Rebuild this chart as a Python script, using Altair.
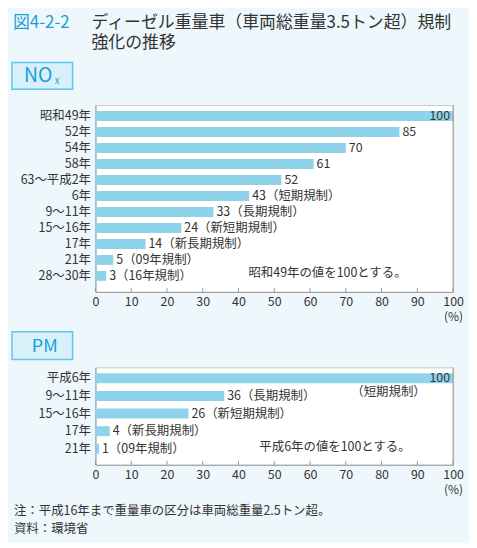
import altair as alt
import pandas as pd

# ---------------- data ----------------
nox_cats = ["昭和49年", "52年", "54年", "58年", "63〜平成2年", "6年", "9〜11年",
            "15〜16年", "17年", "21年", "28〜30年"]
nox_vals = [100, 85, 70, 61, 52, 43, 33, 24, 14, 5, 3]
nox_notes = ["", "", "", "", "", "（短期規制）", "（長期規制）", "（新短期規制）",
             "（新長期規制）", "（09年規制）", "（16年規制）"]

pm_cats = ["平成6年", "9〜11年", "15〜16年", "17年", "21年"]
pm_vals = [100, 36, 26, 4, 1]
pm_notes = ["（短期規制）", "（長期規制）", "（新短期規制）", "（新長期規制）", "（09年規制）"]

x_ticks = [0, 10, 20, 30, 40, 50, 60, 70, 80, 90, 100]

title_num = "図4-2-2"
title_line1 = "ディーゼル重量車（車両総重量3.5トン超）規制"
title_line2 = "強化の推移"
nox_label = "NO"
nox_sub = "x"
pm_label = "PM"
nox_base_note = "昭和49年の値を100とする。"
pm_base_note = "平成6年の値を100とする。"
note1 = "注：平成16年まで重量車の区分は車両総重量2.5トン超。"
note2 = "資料：環境省"
unit = "(%)"

# ---------------- style ----------------
FONT = "Noto Sans CJK JP"
BG = "#eef7fc"
BAR = "#8fd3ea"
BLUE = "#1b9fd6"
TXT = "#333333"
W = 360

AX = alt.Axis(
    values=x_ticks, title=unit, labelFontSize=12.5, labelColor=TXT, labelFont=FONT,
    ticks=False, grid=False, domainColor="#999999", labelPadding=4,
    labelFlush=False, labelOverlap=False,
    titleX=W, titleY=25, titleFontSize=12, titleFontWeight="normal",
    titleColor=TXT, titleFont=FONT, titleAlign="center", titleBaseline="middle",
)
AY = alt.Axis(
    title=None, ticks=False, labelFontSize=12.5, labelColor=TXT,
    labelFont=FONT, labelPadding=5, domainColor="#999999",
)


def one(text):
    return pd.DataFrame({"t": [text]})


def text_layer(text, x, y, size=12.5, color=TXT, align="left", weight="normal"):
    return alt.Chart(one(text)).mark_text(
        align=align, baseline="middle", fontSize=size, color=color,
        font=FONT, fontWeight=weight
    ).encode(x=alt.value(x), y=alt.value(y), text="t:N")


def box_layer(x1, x2, y1, y2):
    return alt.Chart(one("")).mark_rect(
        fill="#d8f0fa", stroke="#62c5ea", strokeWidth=1.5
    ).encode(x=alt.value(x1), x2=alt.value(x2), y=alt.value(y1), y2=alt.value(y2))


def panel(cats, vals, notes, H, p_in, p_out):
    labels = [f"{v}{n}" if v < 100 else "" for v, n in zip(vals, notes)]
    df = pd.DataFrame({"cat": cats, "value": vals, "label": labels})
    yscale = alt.Scale(domain=cats, paddingInner=p_in, paddingOuter=p_out, align=0.35)
    xscale = alt.Scale(domain=[0, 100], nice=False, zero=True)
    X = alt.X("value:Q", scale=xscale, axis=AX)
    Y = alt.Y("cat:N", scale=yscale, sort=cats, axis=AY)
    base = alt.Chart(df)
    bars = base.mark_bar(color=BAR, cornerRadius=0).encode(x=X, y=Y)
    out_lbl = base.transform_filter("datum.value < 100").mark_text(
        align="left", baseline="middle", dx=3, fontSize=12.5, color=TXT, font=FONT
    ).encode(x=X, y=Y, text="label:N")
    in_lbl = base.transform_filter("datum.value >= 100").mark_text(
        align="right", baseline="middle", dx=-3, fontSize=12.5, color=TXT, font=FONT
    ).encode(x=X, y=Y, text="value:Q")
    tdf = pd.DataFrame({"value": x_ticks})
    ticks = alt.Chart(tdf).mark_rule(color="#999999", strokeWidth=1).encode(
        x=X, y=alt.value(H), y2=alt.value(H - 4))
    right = alt.Chart(one("")).mark_rule(color="#999999", strokeWidth=1).encode(
        x=alt.value(W), y=alt.value(0), y2=alt.value(H))
    return [bars, out_lbl, in_lbl, ticks, right]


H1 = 188
H2 = 98

layers1 = panel(nox_cats, nox_vals, nox_notes, H1, 0.38, 0.53)
layers1 += [
    text_layer(title_num, -83, -83, size=17, color=BLUE),
    text_layer(title_line1, -4, -83, size=17),
    text_layer(title_line2, -4, -62.5, size=17),
    box_layer(-84, -23, -43, -16),
    text_layer(nox_label, -72, -29, size=19.5, color=BLUE),
    text_layer(nox_sub, -41, -24, size=9.5, color=BLUE),
    text_layer(nox_base_note, 154, 169),
]
c1 = alt.layer(*layers1).properties(width=W, height=H1)

layers2 = panel(pm_cats, pm_vals, pm_notes, H2, 0.437, 0.479)
layers2 += [
    text_layer(pm_notes[0], 295, 25, align="center"),
    text_layer(pm_base_note, 165, 80),
    box_layer(-84, -23, -36, -8),
    text_layer(pm_label, -51, -21, size=18, color=BLUE, align="center"),
    text_layer(note1, -82, 145),
    text_layer(note2, -82, 163),
]
c2 = alt.layer(*layers2).properties(width=W, height=H2)

chart = alt.vconcat(c1, c2, spacing=76, bounds="flush").configure(
    background=BG, font=FONT,
    padding={"left": 2, "top": 3, "right": 5, "bottom": 5},
).configure_view(
    stroke="#c8c8c8", fill="white"
).configure_axisX(labelOverlap=False, labelFlush=False)

chart.save("out.html", embed_options={"renderer": "svg", "actions": False})
